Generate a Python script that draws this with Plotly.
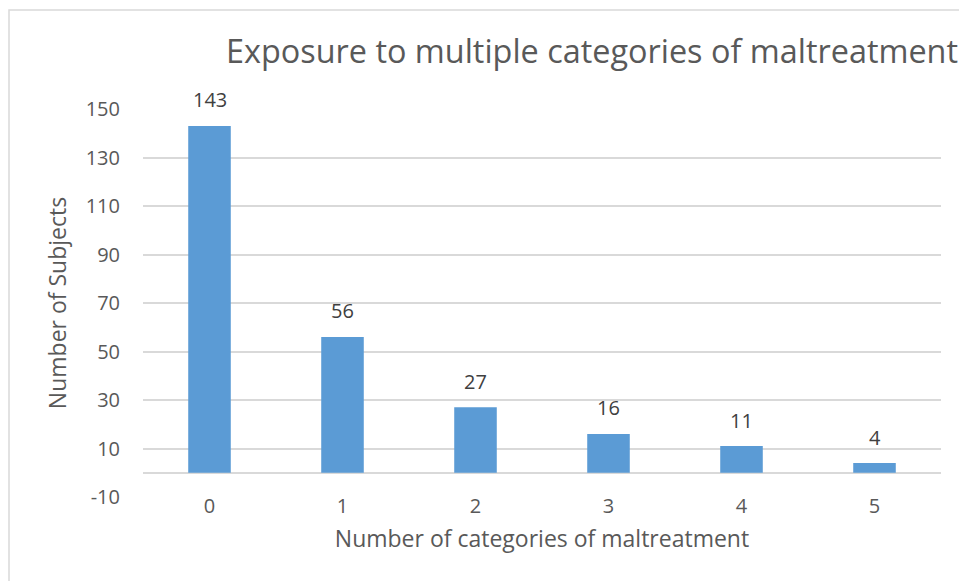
import plotly.graph_objects as go

categories = ["0", "1", "2", "3", "4", "5"]
subjects = [143, 56, 27, 16, 11, 4]
y_ticks = [-10, 10, 30, 50, 70, 90, 110, 130, 150]
y_tick_labels = ["-10", "10", "30", "50", "70", "90", "110", "130", "150"]

W, H = 959, 581
L, R, T, B = 143, 18, 109, 84
pw, ph = W - L - R, H - T - B
FONT = "Open Sans"

fig = go.Figure(go.Bar(
    x=categories, y=subjects,
    marker=dict(color="#5B9BD5", line=dict(width=0)),
    width=0.32,
))

for c, v in zip(categories, subjects):
    fig.add_annotation(x=c, y=v, text=str(v), showarrow=False,
                       yanchor="middle", yshift=26,
                       font=dict(family=FONT, size=20, color="#404040"))

fig.update_layout(
    width=W, height=H,
    margin=dict(l=L, r=R, t=T, b=B),
    paper_bgcolor="white", plot_bgcolor="white",
    showlegend=False,
    title=dict(text="Exposure to multiple categories of maltreatment",
               font=dict(family=FONT, size=32.4, color="#595959"),
               xref="paper", x=(226 - L) / pw, xanchor="left",
               yref="container", y=1 - 52 / H, yanchor="middle"),
    xaxis=dict(type="category", range=[-0.5, 5.5], showgrid=False,
               showline=False, ticks="", ticklen=0, ticklabelstandoff=-5,
               tickfont=dict(family=FONT, size=20, color="#595959"),
               title=dict(text="Number of categories of maltreatment",
                          font=dict(family=FONT, size=23, color="#595959"),
                          standoff=12)),
    yaxis=dict(range=[-10, 150], tickvals=y_ticks, ticktext=y_tick_labels,
               showgrid=True, gridcolor="#d9d9d9", gridwidth=1.5,
               zeroline=True, zerolinecolor="#d9d9d9", zerolinewidth=1.5,
               showline=False, ticks="", ticklen=0, ticklabelstandoff=22,
               tickfont=dict(family=FONT, size=20, color="#595959"),
               title=dict(text="Number of Subjects",
                          font=dict(family=FONT, size=23, color="#595959"),
                          standoff=12)),
)

fig.add_shape(type="rect", xref="paper", yref="paper",
              x0=(9 - L) / pw, x1=1.2, y0=-0.5, y1=1 + (T - 10) / ph,
              line=dict(color="#d9d9d9", width=1.5), fillcolor="rgba(0,0,0,0)",
              layer="below")

fig.write_html("out.html")
